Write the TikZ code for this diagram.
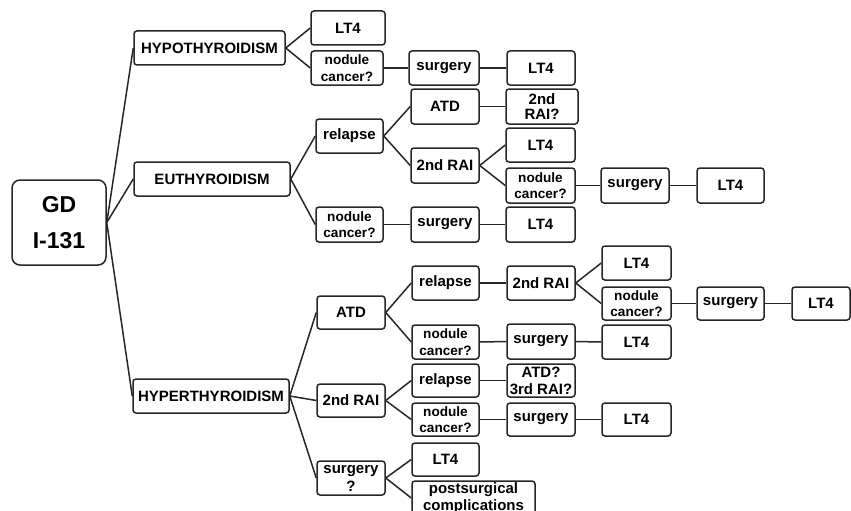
\documentclass[tikz,border=0pt]{standalone}
\usepackage{fontspec}
\setmainfont{Liberation Sans}
\tikzset{
  bx/.style={draw=black!85, line width=1.5pt, rounded corners=3pt, inner sep=0pt, align=center,
    font=\bfseries\fontsize{15}{16}\selectfont, text=black},
  two/.style={font=\bfseries\fontsize{13.6}{16.5}\selectfont},
  ln/.style={draw=black!85, line width=1.5pt}
}
\begin{document}
\begin{tikzpicture}[x=1pt,y=-1pt]
\useasboundingbox (0,0) rectangle (851,511);
% root
\node[bx, rounded corners=8pt, minimum width=94pt, minimum height=85pt, font=\bfseries\fontsize{23}{36}\selectfont] (gd) at (59,222.5) {GD\\I-131};
% level 1
\node[bx, minimum width=151pt, minimum height=34pt] (hypo) at (209.5,48) {HYPOTHYROIDISM};
\node[bx, minimum width=156pt, minimum height=34pt] (eu) at (212,179) {EUTHYROIDISM};
\node[bx, minimum width=156pt, minimum height=34pt] (hyper) at (211,396) {HYPERTHYROIDISM};
% hypothyroidism branch
\node[bx, minimum width=74pt, minimum height=34pt] (hlt) at (348,28) {LT4};
\node[bx, two, minimum width=72pt, minimum height=34pt] (hnc) at (347,68) {nodule\\cancer?};
\node[bx, minimum width=70pt, minimum height=34pt] (hsg) at (444,68) {surgery};
\node[bx, minimum width=68pt, minimum height=34pt] (hltb) at (541,68) {LT4};
% euthyroidism branch
\node[bx, minimum width=67pt, minimum height=34pt] (erel) at (349.5,136) {relapse};
\node[bx, two, minimum width=67pt, minimum height=35pt] (enc) at (349.5,224.5) {nodule\\cancer?};
\node[bx, minimum width=68pt, minimum height=35pt] (eatd) at (445,106.5) {ATD};
\node[bx, font=\bfseries\fontsize{15}{15}\selectfont, minimum width=72pt, minimum height=35pt] (eraiq) at (542,106.5) {2nd\\RAI?};
\node[bx, minimum width=68pt, minimum height=35pt] (erai) at (445,165.5) {2nd RAI};
\node[bx, minimum width=69pt, minimum height=34pt] (elt) at (540.5,145) {LT4};
\node[bx, two, minimum width=69pt, minimum height=35pt] (encb) at (540.5,185.5) {nodule\\cancer?};
\node[bx, minimum width=68pt, minimum height=35pt] (esgb) at (635,185.5) {surgery};
\node[bx, minimum width=67pt, minimum height=35pt] (eltc) at (730.5,185.5) {LT4};
\node[bx, minimum width=68pt, minimum height=35pt] (esg) at (445,224.5) {surgery};
\node[bx, minimum width=69pt, minimum height=35pt] (eltb) at (540.5,224.5) {LT4};
% hyperthyroidism branch
\node[bx, minimum width=68pt, minimum height=33pt] (yatd) at (351,312.5) {ATD};
\node[bx, minimum width=68pt, minimum height=33pt] (yrai) at (351,400.5) {2nd RAI};
\node[bx, font=\bfseries\fontsize{15}{18}\selectfont, minimum width=68pt, minimum height=34pt] (ysg) at (351,478) {surgery\\?};
% ATD sub-branch
\node[bx, minimum width=67pt, minimum height=34pt] (arel) at (445.5,283) {relapse};
\node[bx, two, minimum width=67pt, minimum height=34pt] (anc) at (445.5,342) {nodule\\cancer?};
\node[bx, minimum width=68pt, minimum height=34pt] (arai) at (541,283) {2nd RAI};
\node[bx, minimum width=69pt, minimum height=34pt] (alt) at (636.5,263) {LT4};
\node[bx, two, minimum width=69pt, minimum height=33pt] (ancb) at (636.5,303.5) {nodule\\cancer?};
\node[bx, minimum width=67pt, minimum height=33pt] (asgb) at (730.5,303.5) {surgery};
\node[bx, minimum width=58pt, minimum height=33pt] (altc) at (821,303.5) {LT4};
\node[bx, minimum width=68pt, minimum height=35pt] (asg) at (541,341.5) {surgery};
\node[bx, minimum width=69pt, minimum height=34pt] (altb) at (636.5,342) {LT4};
% 2nd RAI sub-branch
\node[bx, minimum width=67pt, minimum height=33pt] (rrel) at (445.5,380.5) {relapse};
\node[bx, two, minimum width=67pt, minimum height=33pt] (rnc) at (445.5,419.5) {nodule\\cancer?};
\node[bx, font=\bfseries\fontsize{15}{17}\selectfont, minimum width=68pt, minimum height=33pt] (rq) at (541,380.5) {ATD?\\3rd RAI?};
\node[bx, minimum width=68pt, minimum height=33pt] (rsg) at (541,419.5) {surgery};
\node[bx, minimum width=69pt, minimum height=33pt] (rlt) at (636.5,419.5) {LT4};
% surgery? sub-branch
\node[bx, minimum width=67pt, minimum height=33pt] (slt) at (445.5,459.5) {LT4};
\node[bx, font=\bfseries\fontsize{15}{16.5}\selectfont, minimum width=123pt, minimum height=34pt] (spc) at (473.5,498) {postsurgical\\complications};
% connectors
\draw[ln] (gd.east) -- (hypo.west);
\draw[ln] (gd.east) -- (eu.west);
\draw[ln] (gd.east) -- (hyper.west);
\draw[ln] (hypo.east) -- (hlt.west);
\draw[ln] (hypo.east) -- (hnc.west);
\draw[ln] (hnc) -- (hsg);
\draw[ln] (hsg) -- (hltb);
\draw[ln] (eu.east) -- (erel.west);
\draw[ln] (eu.east) -- (enc.west);
\draw[ln] (erel.east) -- (eatd.west);
\draw[ln] (erel.east) -- (erai.west);
\draw[ln] (eatd) -- (eraiq);
\draw[ln] (erai.east) -- (elt.west);
\draw[ln] (erai.east) -- (encb.west);
\draw[ln] (encb) -- (esgb);
\draw[ln] (esgb) -- (eltc);
\draw[ln] (enc) -- (esg);
\draw[ln] (esg) -- (eltb);
\draw[ln] (hyper.east) -- (yatd.west);
\draw[ln] (hyper.east) -- (yrai.west);
\draw[ln] (hyper.east) -- (ysg.west);
\draw[ln] (yatd.east) -- (arel.west);
\draw[ln] (yatd.east) -- (anc.west);
\draw[ln] (arel) -- (arai);
\draw[ln] (arai.east) -- (alt.west);
\draw[ln] (arai.east) -- (ancb.west);
\draw[ln] (ancb) -- (asgb);
\draw[ln] (asgb) -- (altc);
\draw[ln] (anc) -- (asg);
\draw[ln] (asg) -- (altb);
\draw[ln] (yrai.east) -- (rrel.west);
\draw[ln] (yrai.east) -- (rnc.west);
\draw[ln] (rrel) -- (rq);
\draw[ln] (rnc) -- (rsg);
\draw[ln] (rsg) -- (rlt);
\draw[ln] (ysg.east) -- (slt.west);
\draw[ln] (ysg.east) -- (spc.west);
\end{tikzpicture}
\end{document}
